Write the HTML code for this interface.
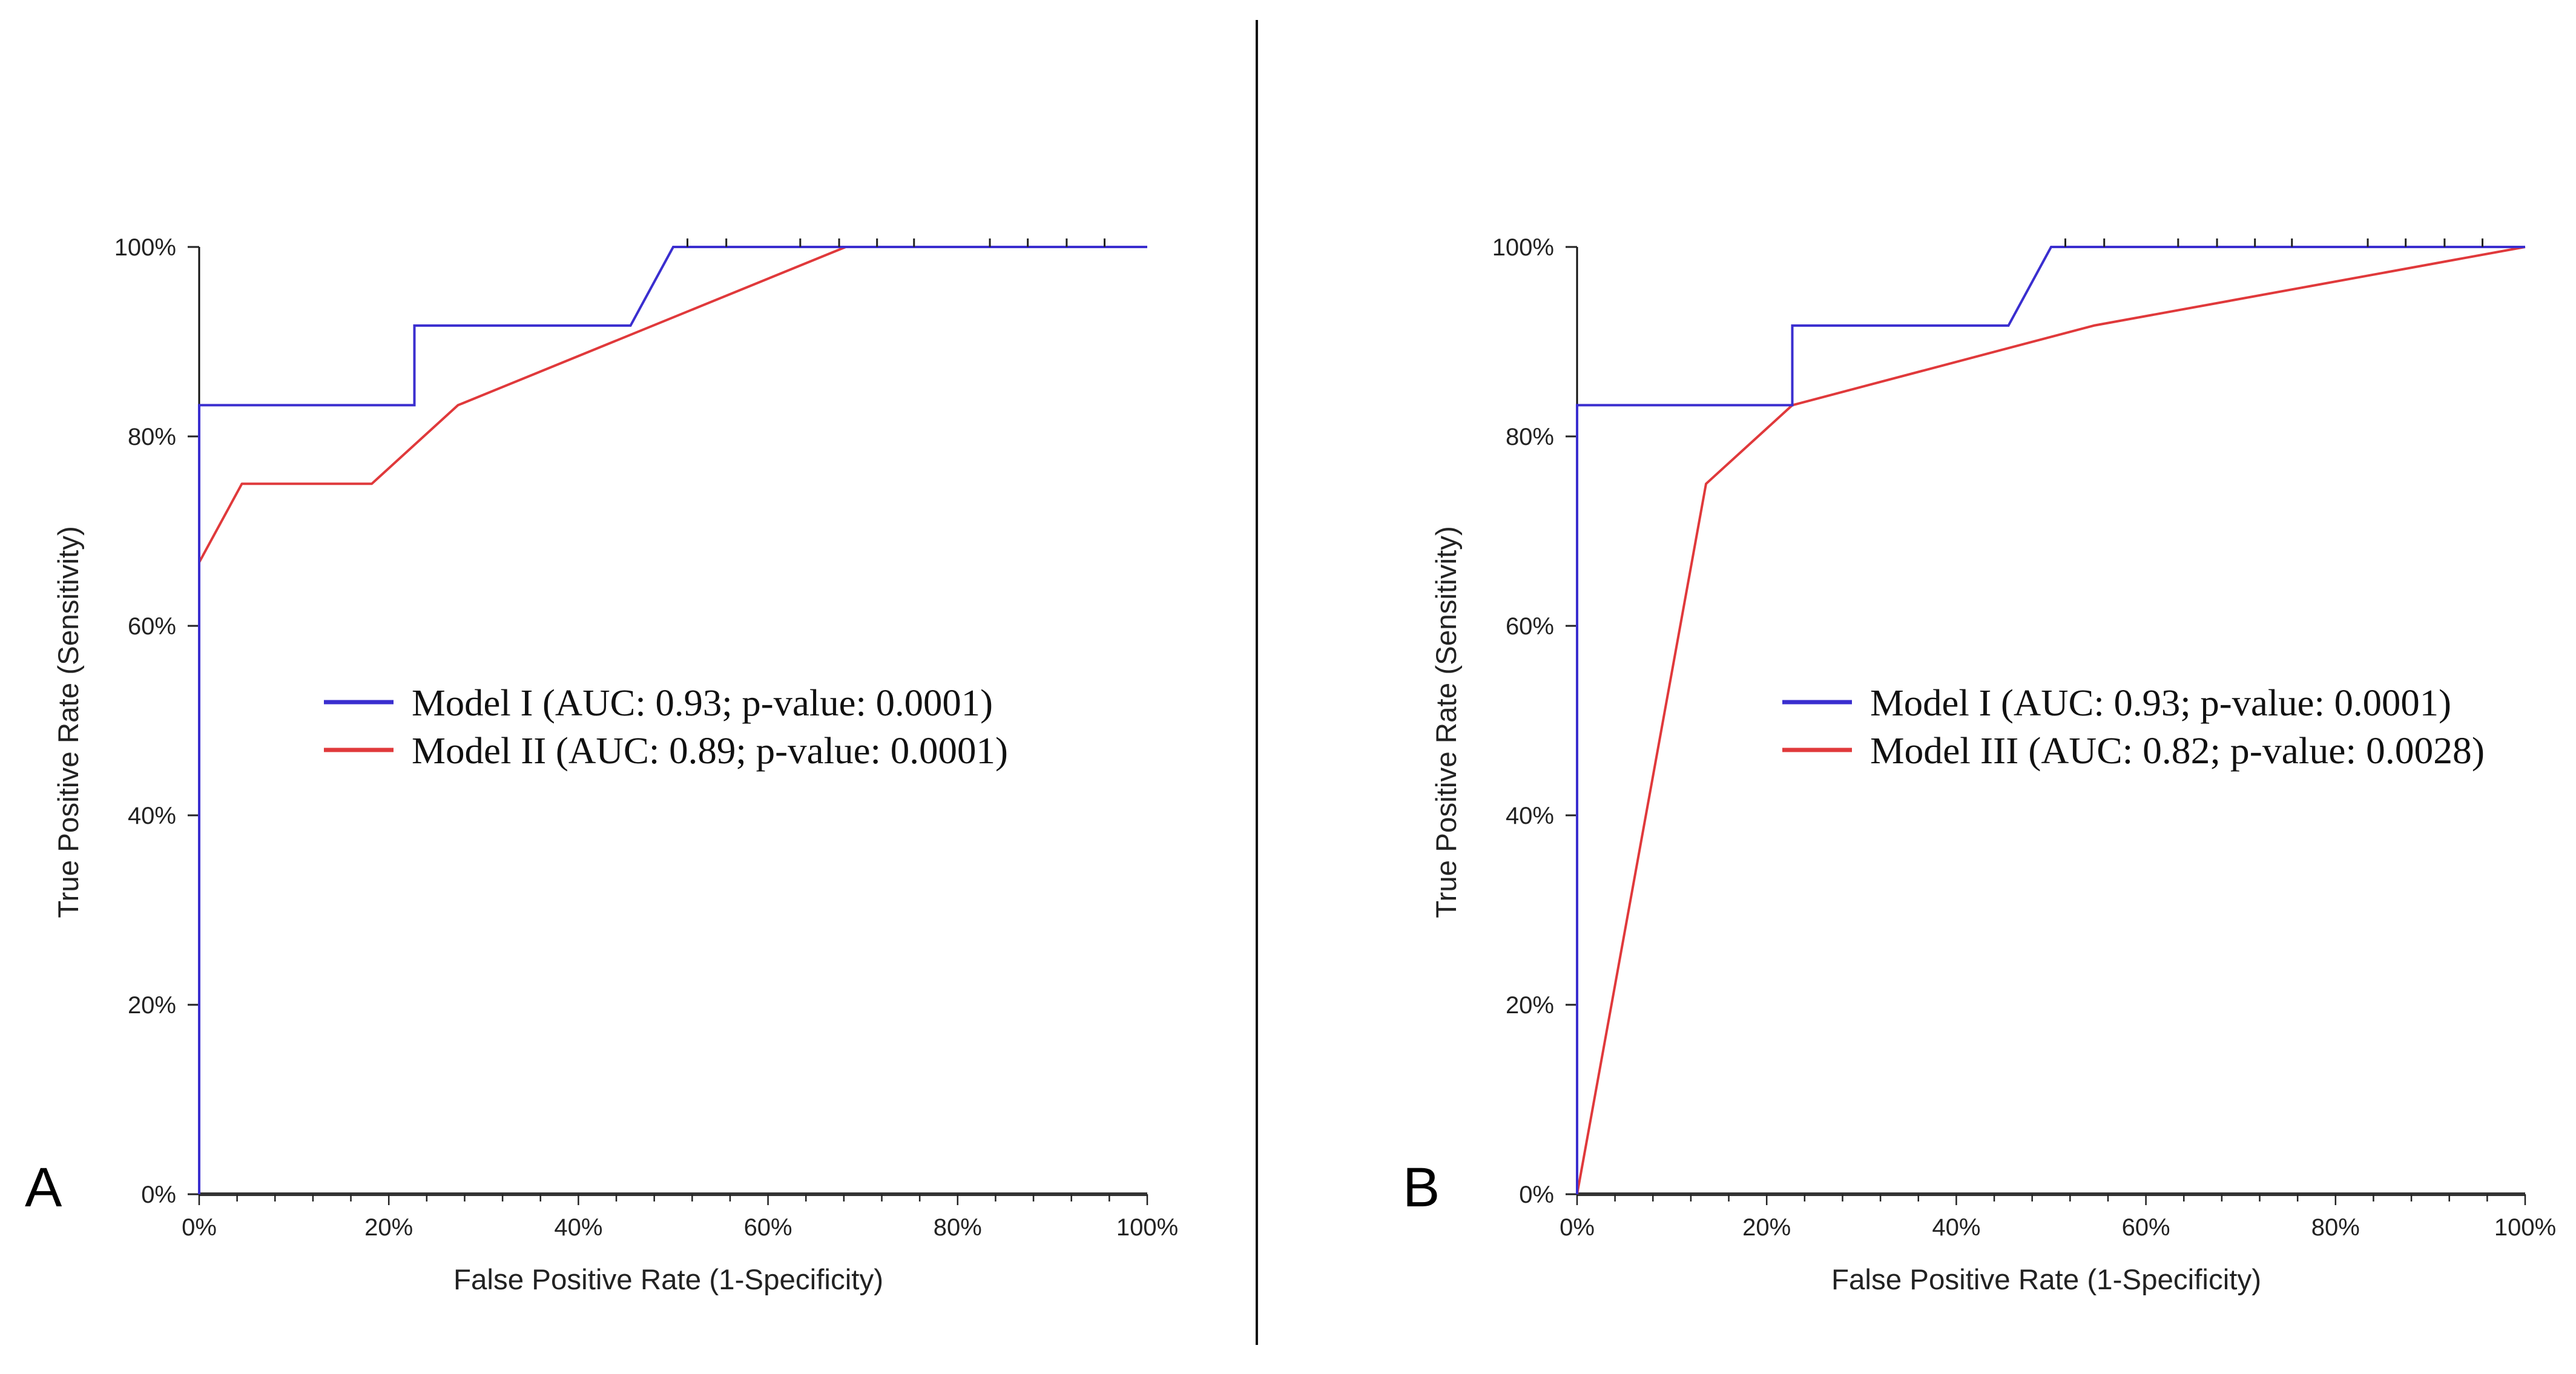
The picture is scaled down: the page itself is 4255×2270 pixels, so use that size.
<!DOCTYPE html>
<html><head><meta charset="utf-8"><style>
html,body{margin:0;padding:0;background:#fff;}
svg{display:block;}
</style></head><body>
<svg id="chart" width="4255" height="2270" viewBox="0 0 4255 2270" xmlns="http://www.w3.org/2000/svg" font-family="'Liberation Sans', sans-serif">
<line x1="2076" y1="33" x2="2076" y2="2222" stroke="#111" stroke-width="4"/>
</svg>
<script>
// ---- data ----
const xTicks = [0, 20, 40, 60, 80, 100];
const yTicks = [0, 20, 40, 60, 80, 100];
const tickLabels = ["0%", "20%", "40%", "60%", "80%", "100%"];
const model1X = [0, 0, 22.7, 22.7, 45.5, 50, 100];
const model1Y = [0, 83.3, 83.3, 91.7, 91.7, 100, 100];
const model2X = [0, 4.5, 18.2, 27.3, 68.2, 100];
const model2Y = [66.7, 75, 75, 83.3, 100, 100];
const model3X = [0, 13.6, 22.7, 54.5, 100];
const model3Y = [0, 75, 83.3, 91.7, 100];
const censorX = [51.5, 55.6, 63.4, 67.5, 71.5, 75.4, 83.4, 87.4, 91.5, 95.5];
const legendA = ["Model I (AUC: 0.93; p-value: 0.0001)", "Model II (AUC: 0.89; p-value: 0.0001)"];
const legendB = ["Model I (AUC: 0.93; p-value: 0.0001)", "Model III (AUC: 0.82; p-value: 0.0028)"];

const NS = "http://www.w3.org/2000/svg";
const svg = document.getElementById('chart');
function mk(tag, attrs, parent) {
  const e = document.createElementNS(NS, tag);
  for (const k in attrs) e.setAttribute(k, attrs[k]);
  (parent || svg).appendChild(e);
  return e;
}
const BLUE = "#3a2ecf", RED = "#e0393b";

function panel(x0, letter, seriesB, legend, legOff) {
  const x1 = x0 + 1566, yb = 1973, yt = 408;
  const sx = v => x0 + (v / 100) * (x1 - x0);
  const sy = v => yb - (v / 100) * (yb - yt);
  const g = mk('g', {});
  
  

  const ya = mk('line', {x1: x0, y1: yt, x2: x0, y2: yb, stroke: '#111', 'stroke-width': 3}, g);
  
  
  const xa = mk('line', {x1: x0, y1: yb, x2: x1, y2: yb, stroke: '#333', 'stroke-width': 6}, g);
  
  

  for (let v = 0; v <= 100; v += 4) {
    const major = v % 20 === 0;
    const t = mk('line', {x1: sx(v), y1: yb, x2: sx(v), y2: yb + (major ? 18 : 12), stroke: '#222', 'stroke-width': 2.5}, g);
    
    
  }
  xTicks.forEach((v, i) => {
    const t = mk('text', {x: sx(v), y: 2041, 'text-anchor': 'middle', 'font-size': 40, fill: '#222'}, g);
    t.textContent = tickLabels[i];
    
    
  });
  yTicks.forEach((v, i) => {
    const tk = mk('line', {x1: x0 - 19, y1: sy(v), x2: x0, y2: sy(v), stroke: '#222', 'stroke-width': 3}, g);
    
    
    const t = mk('text', {x: x0 - 38, y: sy(v) + 14, 'text-anchor': 'end', 'font-size': 40, fill: '#222'}, g);
    t.textContent = tickLabels[i];
    
    
  });
  const xt = mk('text', {x: (x0 + x1) / 2 - 8, y: 2130, 'text-anchor': 'middle', 'font-size': 47.5, fill: '#222'}, g);
  xt.textContent = 'False Positive Rate (1-Specificity)';
  
  
  const yx = x0 - 200;
  const yt2 = mk('text', {x: yx, y: 1193, 'text-anchor': 'middle', 'font-size': 47.5, fill: '#222', transform: `rotate(-90 ${yx} 1193)`}, g);
  yt2.textContent = 'True Positive Rate (Sensitivity)';
  
  

  const lt = mk('text', {x: x0 - 288, y: 1993, 'font-size': 92, fill: '#000'}, g);
  lt.textContent = letter;
  
  

  const path = (xs, ys) => xs.map((v, i) => (i ? 'L' : 'M') + sx(v).toFixed(1) + ' ' + sy(ys[i]).toFixed(1)).join(' ');
  const r = mk('path', {d: path(seriesB[0], seriesB[1]), fill: 'none', stroke: RED, 'stroke-width': 4, 'stroke-linejoin': 'round'}, g);
  
  
  const b = mk('path', {d: path(model1X, model1Y), fill: 'none', stroke: BLUE, 'stroke-width': 4}, g);
  
  
  censorX.forEach(v => {
    const c = mk('line', {x1: sx(v), y1: sy(100), x2: sx(v), y2: sy(100) - 14, stroke: '#222', 'stroke-width': 3}, g);
    
    
  });

  const lx = x0 + legOff;
  const cols = [BLUE, RED];
  const widths = [960, legend[1].length > 37 ? 1015 : 985];
  legend.forEach((s, i) => {
    const yy = 1160 + i * 79;
    const ln = mk('line', {x1: lx, y1: yy, x2: lx + 115, y2: yy, stroke: cols[i], 'stroke-width': 7}, g);
    
    
    const t = mk('text', {x: lx + 145, y: yy + 22, 'font-size': 62, fill: '#111', 'font-family': "'Liberation Serif', serif", textLength: widths[i], lengthAdjust: 'spacingAndGlyphs'}, g);
    t.textContent = s;
    
    
  });
}
panel(329, 'A', [model2X, model2Y], legendA, 206);
panel(2605, 'B', [model3X, model3Y], legendB, 339);
</script>
</body></html>
